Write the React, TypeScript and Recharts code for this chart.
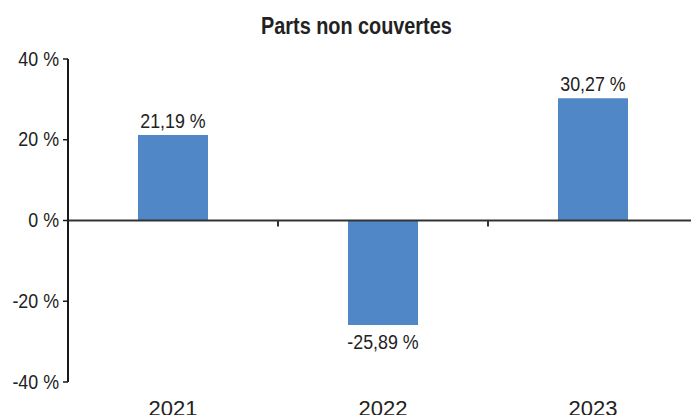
import React from "react";
import { BarChart, Bar, XAxis, YAxis, ReferenceLine, LabelList } from "recharts";

const categories = ["2021", "2022", "2023"];
const values = [21.19, -25.89, 30.27];
const yTicks = [-40, -20, 0, 20, 40];
const title = "Parts non couvertes";

const data = categories.map((c, i) => ({ year: c, value: values[i] }));
const FONT = "'Liberation Sans', Arial, Helvetica, sans-serif";
const TEXT = "#222";

const fmt = (v: number) => `${v.toFixed(2).replace(".", ",")} %`;

const NText = ({ x, y, size, scale, anchor = "middle", bold = false, children }: any) => (
  <text
    transform={`translate(${x} ${y}) scale(${scale} 1)`}
    x={0}
    y={0}
    textAnchor={anchor}
    fontFamily={FONT}
    fontSize={size}
    fontWeight={bold ? "bold" : "normal"}
    fill={TEXT}
  >
    {children}
  </text>
);

const renderLabel = (props: any) => {
  const { x, y, width, height, value } = props;
  const top = Math.min(y, y + height);
  const bottom = Math.max(y, y + height);
  const cx = x + width / 2;
  const yy = value >= 0 ? top - 7 : bottom + 23.7;
  return (
    <NText x={cx} y={yy} size={21} scale={0.85}>
      {fmt(value)}
    </NText>
  );
};

const YTick = (props: any) => {
  const { x, y, payload } = props;
  return (
    <NText x={x} y={y + 6.5} size={20.5} scale={0.87} anchor="end">
      {`${payload.value} %`}
    </NText>
  );
};

const XTick = (props: any) => {
  const { x, y, payload } = props;
  return (
    <text x={x} y={y + 33.5} textAnchor="middle" fontFamily={FONT} fontSize={22} fill={TEXT}>
      {payload.value}
    </text>
  );
};

const ZeroTicks = (props: any) => {
  const vb = props.viewBox || {};
  const n = categories.length;
  const marks = [];
  for (let i = 1; i < n; i++) {
    const x = vb.x + (vb.width * i) / n;
    marks.push(<line key={i} x1={x} x2={x} y1={vb.y} y2={vb.y + 6} stroke="#333" strokeWidth={2} />);
  }
  return <g>{marks}</g>;
};

export default function App() {
  return (
    <div style={{ position: "absolute", left: 0, top: 0, width: 691, height: 415, overflow: "hidden", background: "#fff" }}>
      <BarChart
        width={698}
        height={415}
        data={data}
        margin={{ top: 59, right: 0, bottom: 0, left: 0 }}
      >
        <NText x={356.4} y={34} size={24.5} scale={0.81} bold>
          {title}
        </NText>
        <XAxis
          dataKey="year"
          axisLine={false}
          tickLine={false}
          tickSize={0}
          tickMargin={0}
          height={33}
          interval={0}
          tick={<XTick />}
        />
        <YAxis
          domain={[-40, 40]}
          ticks={yTicks}
          width={68}
          interval={0}
          axisLine={{ stroke: "#1a1a1a", strokeWidth: 2 }}
          tickLine={{ stroke: "#1a1a1a", strokeWidth: 1.5 }}
          tickSize={5}
          tickMargin={4}
          tick={<YTick />}
        />
        <Bar dataKey="value" fill="#5087c6" barSize={70} isAnimationActive={false}>
          <LabelList dataKey="value" content={renderLabel} />
        </Bar>
        <ReferenceLine y={0} stroke="#333" strokeWidth={2} label={<ZeroTicks />} />
      </BarChart>
    </div>
  );
}
